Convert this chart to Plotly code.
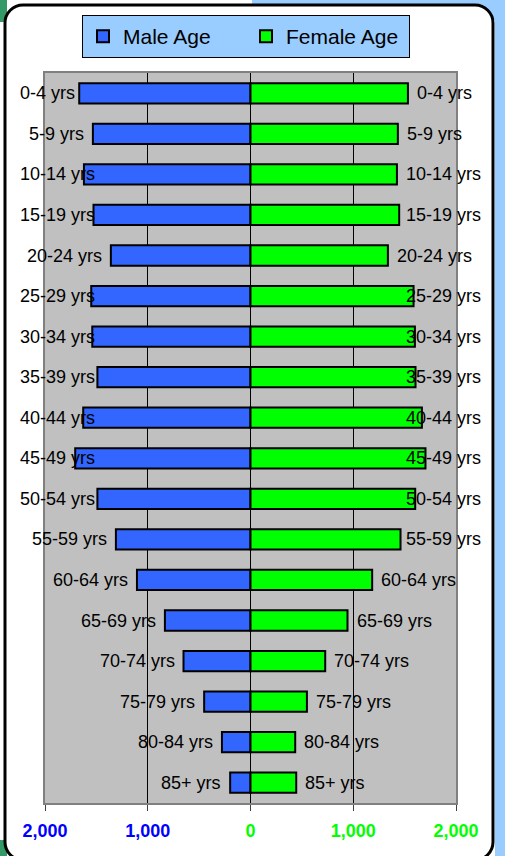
import plotly.graph_objects as go

# ---------------- data ----------------
age_groups = ["0-4 yrs", "5-9 yrs", "10-14 yrs", "15-19 yrs", "20-24 yrs", "25-29 yrs",
              "30-34 yrs", "35-39 yrs", "40-44 yrs", "45-49 yrs", "50-54 yrs", "55-59 yrs",
              "60-64 yrs", "65-69 yrs", "70-74 yrs", "75-79 yrs", "80-84 yrs", "85+ yrs"]
male = [1667, 1534, 1621, 1528, 1359, 1550, 1540, 1490, 1628, 1706, 1490, 1310,
        1105, 833, 652, 451, 278, 198]
female = [1532, 1434, 1425, 1447, 1337, 1587, 1600, 1606, 1668, 1703, 1603, 1460,
          1184, 944, 727, 549, 435, 445]
tick_vals = [-2000, -1000, 0, 1000, 2000]
tick_labels = ["2,000", "1,000", "0", "1,000", "2,000"]
tick_colors = ["#0000FF", "#0000FF", "#00FF00", "#00FF00", "#00FF00"]

# ---------------- layout geometry (pixels) ----------------
W, H = 505, 856
PL, PR, PT, PB = 45, 456, 73, 803  # plot area
XMIN, XMAX = -2000, 2000
FONT = "Arial, Liberation Sans, sans-serif"
LABEL_SIZE = 18


def P(X, Y):
    return (X - PL) / (PR - PL), (PB - Y) / (PB - PT)


def data_to_px(v):
    return PL + (v - XMIN) / (XMAX - XMIN) * (PR - PL)


CW = {"0": .556, "1": .556, "2": .556, "3": .556, "4": .556, "5": .556, "6": .556,
      "7": .556, "8": .556, "9": .556, "-": .333, " ": .278, "y": .5, "r": .333,
      "s": .5, "+": .584}


def text_w(t):
    return sum(CW.get(c, .55) for c in t) * LABEL_SIZE


fig = go.Figure()
fig.add_trace(go.Bar(
    y=age_groups, x=[-v for v in male], orientation="h", name="Male Age",
    marker=dict(color="#3366FF", line=dict(color="black", width=2)),
    customdata=male, hovertemplate="%{y}: %{customdata}<extra></extra>"))
fig.add_trace(go.Bar(
    y=age_groups, x=female, orientation="h", name="Female Age",
    marker=dict(color="#00FF00", line=dict(color="black", width=2)),
    hovertemplate="%{y}: %{x}<extra></extra>"))

# ---------------- category labels beside bars ----------------
GAP = 8
RIGHT_LIMIT = 482
LEFT_LIMIT = 19
annotations = []
for cat, m, f in zip(age_groups, male, female):
    w = text_w(cat)
    # female side
    if data_to_px(f) + GAP + w > RIGHT_LIMIT:
        annotations.append(dict(x=P(RIGHT_LIMIT, 0)[0], xref="paper", y=cat, yref="y",
                                xanchor="right", yanchor="middle", text=cat,
                                showarrow=False, borderpad=0))
    else:
        annotations.append(dict(x=f, xref="x", y=cat, yref="y", xanchor="left",
                                yanchor="middle", xshift=GAP, text=cat,
                                showarrow=False, borderpad=0))
    # male side
    if data_to_px(-m) - GAP - w < LEFT_LIMIT:
        annotations.append(dict(x=P(LEFT_LIMIT, 0)[0], xref="paper", y=cat, yref="y",
                                xanchor="left", yanchor="middle", text=cat,
                                showarrow=False, borderpad=0))
    else:
        annotations.append(dict(x=-m, xref="x", y=cat, yref="y", xanchor="right",
                                yanchor="middle", xshift=-GAP, text=cat,
                                showarrow=False, borderpad=0))
for a in annotations:
    a["font"] = dict(family=FONT, size=LABEL_SIZE, color="black")

# ---------------- background / frame shapes ----------------
shapes = []


def rect(x0, y0, x1, y1, color):
    a, b = P(x0, y0)
    c, d = P(x1, y1)
    return dict(type="rect", xref="paper", yref="paper", x0=a, y0=b, x1=c, y1=d,
                fillcolor=color, line=dict(width=0), layer="below")


shapes.append(rect(252, -2, W + 2, 20, "#99CCFF"))
shapes.append(rect(495, -2, W + 2, H + 2, "#99CCFF"))
shapes.append(rect(-2, -2, 7, 22, "#339966"))
shapes.append(rect(-2, 840, 7, H + 2, "#339966"))

# rounded white frame
L, R, T, B, r = 5, 493, 5, 860, 18
k = 0.5523 * r


def pt(X, Y):
    a, b = P(X, Y)
    return f"{a:.5f},{b:.5f}"


path = (f"M {pt(L, T + r)} C {pt(L, T + r - k)} {pt(L + r - k, T)} {pt(L + r, T)} "
        f"L {pt(R - r, T)} C {pt(R - r + k, T)} {pt(R, T + r - k)} {pt(R, T + r)} "
        f"L {pt(R, B - r)} C {pt(R, B - r + k)} {pt(R - r + k, B)} {pt(R - r, B)} "
        f"L {pt(L + r, B)} C {pt(L + r - k, B)} {pt(L, B - r + k)} {pt(L, B - r)} Z")
shapes.append(dict(type="path", xref="paper", yref="paper", path=path,
                   fillcolor="white", line=dict(color="black", width=3), layer="below"))
# gray plot area
shapes.append(dict(type="rect", xref="paper", yref="paper", x0=0, y0=0, x1=1, y1=1,
                   fillcolor="#C0C0C0", line=dict(width=0), layer="below"))

ticktext = [f'<span style="color:{c}"><b>{t}</b></span>'
            for t, c in zip(tick_labels, tick_colors)]

lx, ly = P(246, 15)
fig.update_layout(
    width=W, height=H, autosize=False,
    margin=dict(l=PL, r=W - PR, t=PT, b=H - PB, pad=0),
    paper_bgcolor="white", plot_bgcolor="rgba(0,0,0,0)",
    barmode="relative", bargap=0.5,
    shapes=shapes, annotations=annotations,
    font=dict(family=FONT, color="black"),
    showlegend=True,
    legend=dict(orientation="h", x=lx, y=ly, xanchor="center", yanchor="top",
                bgcolor="#99CCFF", bordercolor="black", borderwidth=1,
                font=dict(family=FONT, size=21, color="black"),
                entrywidth=118, entrywidthmode="pixels",
                itemclick=False, itemdoubleclick=False),
    xaxis=dict(range=[XMIN, XMAX], tickvals=tick_vals, ticktext=ticktext,
               tickfont=dict(family=FONT, size=18), showgrid=True,
               gridcolor="black", gridwidth=1, zeroline=True, zerolinecolor="black",
               zerolinewidth=1, showline=True, linecolor="#808080", linewidth=2,
               mirror=True, ticks="outside", ticklen=6, tickcolor="#404040",
               tickwidth=1, ticklabelstandoff=4, fixedrange=True),
    yaxis=dict(categoryorder="array", categoryarray=age_groups, autorange="reversed",
               showticklabels=False, ticks="", showgrid=False, showline=True,
               linecolor="#808080", linewidth=2, mirror=True, zeroline=False,
               fixedrange=True),
)

fig.write_html("out.html", config={"displayModeBar": False},
               post_script="document.body.style.margin='0';"
                           "document.body.style.overflow='hidden';")
